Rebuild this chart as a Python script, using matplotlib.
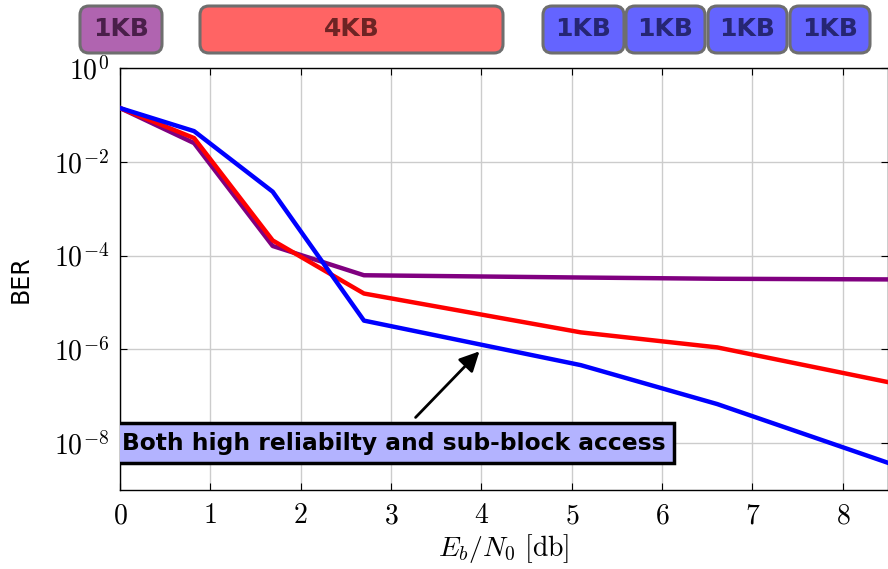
import numpy as np
import matplotlib
matplotlib.use("Agg")
import matplotlib.pyplot as plt
from matplotlib.patches import FancyBboxPatch
from matplotlib.ticker import FuncFormatter

plt.rcParams['mathtext.fontset'] = 'cm'

# Eb/N0 [db]
ebn0 = [0.0, 0.82, 1.69, 2.70, 5.10, 6.61, 8.5]

# BER per scheme
ber_purple = [1.4e-1, 2.5e-2, 1.6e-4, 3.8e-5, 3.4e-5, 3.2e-5, 3.1e-5]
ber_red = [1.4e-1, 3.2e-2, 2.1e-4, 1.55e-5, 2.3e-6, 1.1e-6, 2.0e-7]
ber_blue = [1.4e-1, 4.5e-2, 2.3e-3, 4.1e-6, 4.6e-7, 6.8e-8, 3.8e-9]

# block labels above the plot
blocks = ['1KB', '4KB', '1KB', '1KB', '1KB', '1KB']
block_fill = ['#b064b0', '#ff6464', '#6464ff', '#6464ff', '#6464ff', '#6464ff']
block_text = ['#4a1f4a', '#6e2424', '#262673', '#262673', '#262673', '#262673']
# left/right edges in pixels
block_x = [(80, 162), (200, 503), (543, 624), (626, 705), (708, 787), (790, 870)]

note = 'Both high reliabilty and sub-block access'

fig = plt.figure(figsize=(8.88, 5.69), dpi=100)
ax = fig.add_axes([120 / 888, 1 - 490 / 569, 768 / 888, 422 / 569])

ax.plot(ebn0, ber_purple, color='#800080', lw=3.2, zorder=3)
ax.plot(ebn0, ber_red, color='#ff0000', lw=3.2, zorder=4)
ax.plot(ebn0, ber_blue, color='#0000ff', lw=3.2, zorder=5)

ax.set_yscale('log')
ax.set_xlim(0, 8.5)
ax.set_ylim(1e-9, 1)
ax.set_xticks(range(0, 9))
ax.set_yticks([1e0, 1e-2, 1e-4, 1e-6, 1e-8])
ax.yaxis.set_minor_locator(matplotlib.ticker.NullLocator())
ax.xaxis.set_major_formatter(FuncFormatter(lambda v, p: '$%d$' % v))
ax.yaxis.set_major_formatter(FuncFormatter(lambda v, p: '$10^{%d}$' % round(np.log10(v))))
ax.tick_params(direction='in', length=5, labelsize=20, top=True, right=True, pad=8)
ax.grid(True, color='#cccccc', lw=1)
ax.set_axisbelow(True)
for s in ax.spines.values():
    s.set_linewidth(1)

ax.set_xlabel(r'$E_b/N_0\ \mathrm{[db]}$', fontsize=20, labelpad=2)
ax.set_ylabel('BER', fontsize=17, labelpad=15)

t = ax.text(0.02, 1e-8, note, fontsize=16.8, fontweight='bold', family='DejaVu Sans',
            ha='left', va='center', zorder=6,
            bbox=dict(boxstyle='square,pad=0.36', fc='#b3b3ff', ec='black', lw=2.5))
t.set_clip_on(True)
ax.annotate('', xy=(4.0, 1e-6), xytext=(3.25, 3.2e-8),
            arrowprops=dict(arrowstyle='-|>,head_width=0.3,head_length=0.6', color='black',
                            lw=2, mutation_scale=20),
            zorder=6)

for lab, fc, tc, (x0, x1) in zip(blocks, block_fill, block_text, block_x):
    p = FancyBboxPatch((x0 / 100, (569 - 53) / 100), (x1 - x0) / 100, 47 / 100,
                       boxstyle='round,pad=0,rounding_size=0.09',
                       transform=fig.dpi_scale_trans, fc=fc, ec='#6e6e6e', lw=2.2)
    fig.patches.append(p)
    fig.text((x0 + x1) / 2 / 100, (569 - 29.5) / 100, lab, transform=fig.dpi_scale_trans,
             ha='center', va='center', fontsize=18, fontweight='bold', color=tc)

fig.savefig('out.png', dpi=100)
